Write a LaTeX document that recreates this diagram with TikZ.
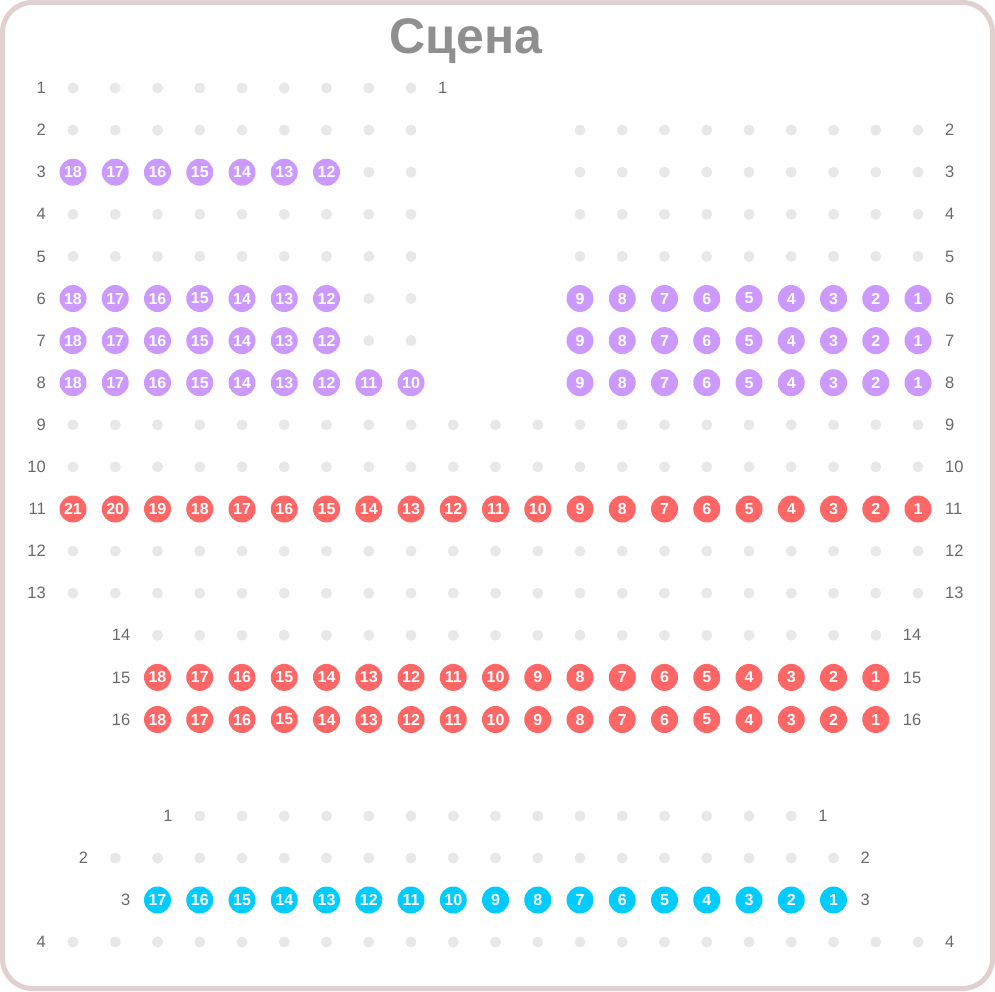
\documentclass[tikz,border=0pt]{standalone}
\usepackage{fontspec}
\setmainfont{Liberation Sans}
\definecolor{seatgrey}{HTML}{E8E8E8}
\definecolor{purp}{HTML}{CC99FF}
\definecolor{redseat}{HTML}{FF6666}
\definecolor{blueseat}{HTML}{00CCFF}
\definecolor{labgrey}{HTML}{6A6A6A}
\definecolor{titlegrey}{HTML}{8F8F8F}
\definecolor{framecol}{HTML}{E0D0D0}
\newcommand\colx[1]{73+42.25*#1}
\newcommand\greyrun[4]{%
  \foreach \i in {#3,...,#4}{\node[dot] (#1c\i) at ({\colx{\i}},#2) {};}}
\newcommand\numrun[6]{%
  \foreach \i in {#4,...,#5}{\pgfmathtruncatemacro\seatnum{#6-\i}\node[#2] (#1c\i) at ({\colx{\i}},#3) {\seatnum};}}
\newcommand\rowlabels[5]{%
  \node[lab, anchor=east] (#1L) at ({\colx{#4}-27},#2) {#3};
  \node[lab, anchor=west] (#1R) at ({\colx{#5}+27},#2) {#3};}
\tikzset{
  dot/.style={circle, fill=seatgrey, minimum size=11pt, inner sep=0pt},
  seatbase/.style={circle, minimum size=27pt, inner sep=0pt, text=white,
    font=\fontsize{16}{16}\selectfont\bfseries},
  pseat/.style={seatbase, fill=purp},
  rseat/.style={seatbase, fill=redseat},
  bseat/.style={seatbase, fill=blueseat},
  lab/.style={inner sep=0pt, text=labgrey, font=\fontsize{16.5}{16.5}\selectfont},
}
\begin{document}
\begin{tikzpicture}[x=1pt,y=-1pt]
\useasboundingbox (0,0) rectangle (995,991);
\draw[line width=5pt, draw=framecol, rounded corners=30pt] (2.5,2.5) rectangle (992.5,988.5);
\node[text=titlegrey, font=\fontsize{50}{50}\selectfont\bfseries] (title) at (466,41) {Сцена};
% parquet rows
% row 1
\greyrun{p1}{88}{0}{8}
\rowlabels{p1}{88}{1}{0}{8}
% row 2
\greyrun{p2}{130.1}{0}{8}\greyrun{p2}{130.1}{12}{20}
\rowlabels{p2}{130.1}{2}{0}{20}
% row 3
\numrun{p3}{pseat}{172.2}{0}{6}{18}\greyrun{p3}{172.2}{7}{8}\greyrun{p3}{172.2}{12}{20}
\rowlabels{p3}{172.2}{3}{0}{20}
% row 4
\greyrun{p4}{214.3}{0}{8}\greyrun{p4}{214.3}{12}{20}
\rowlabels{p4}{214.3}{4}{0}{20}
% row 5
\greyrun{p5}{256.4}{0}{8}\greyrun{p5}{256.4}{12}{20}
\rowlabels{p5}{256.4}{5}{0}{20}
% row 6
\numrun{p6}{pseat}{298.5}{0}{6}{18}\greyrun{p6}{298.5}{7}{8}\numrun{p6}{pseat}{298.5}{12}{20}{21}
\rowlabels{p6}{298.5}{6}{0}{20}
% row 7
\numrun{p7}{pseat}{340.6}{0}{6}{18}\greyrun{p7}{340.6}{7}{8}\numrun{p7}{pseat}{340.6}{12}{20}{21}
\rowlabels{p7}{340.6}{7}{0}{20}
% row 8
\numrun{p8}{pseat}{382.7}{0}{8}{18}\numrun{p8}{pseat}{382.7}{12}{20}{21}
\rowlabels{p8}{382.7}{8}{0}{20}
% row 9
\greyrun{p9}{424.8}{0}{20}
\rowlabels{p9}{424.8}{9}{0}{20}
% row 10
\greyrun{p10}{466.9}{0}{20}
\rowlabels{p10}{466.9}{10}{0}{20}
% row 11
\numrun{p11}{rseat}{509}{0}{20}{21}
\rowlabels{p11}{509}{11}{0}{20}
% row 12
\greyrun{p12}{551.1}{0}{20}
\rowlabels{p12}{551.1}{12}{0}{20}
% row 13
\greyrun{p13}{593.2}{0}{20}
\rowlabels{p13}{593.2}{13}{0}{20}
% row 14
\greyrun{p14}{635.3}{2}{19}
\rowlabels{p14}{635.3}{14}{2}{19}
% row 15
\numrun{p15}{rseat}{677.4}{2}{19}{20}
\rowlabels{p15}{677.4}{15}{2}{19}
% row 16
\numrun{p16}{rseat}{719.5}{2}{19}{20}
\rowlabels{p16}{719.5}{16}{2}{19}
% balcony
\greyrun{b1}{816}{3}{17}
\rowlabels{b1}{816}{1}{3}{17}
\greyrun{b2}{858}{1}{18}
\rowlabels{b2}{858}{2}{1}{18}
\numrun{b3}{bseat}{900}{2}{18}{19}
\rowlabels{b3}{900}{3}{2}{18}
\greyrun{b4}{942}{0}{20}
\rowlabels{b4}{942}{4}{0}{20}
\end{tikzpicture}
\end{document}
